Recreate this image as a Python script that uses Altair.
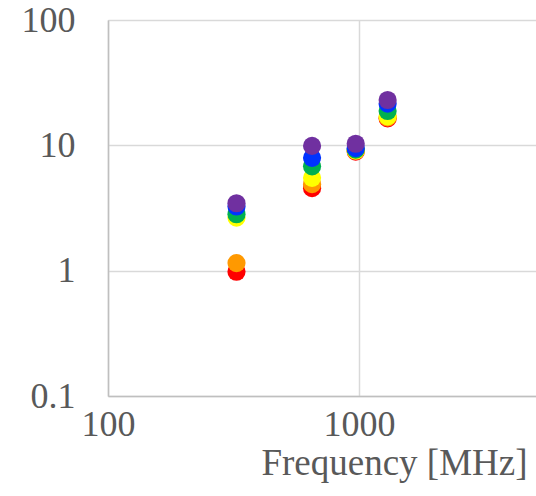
import altair as alt
import pandas as pd

# Measurement frequencies (MHz)
freqs = [325, 650, 970, 1300]

# One series per colour
series_names = ["Red", "Orange", "Yellow", "Green", "Blue", "Purple"]
series_colors = ["#FF0000", "#FF9900", "#FFFF00", "#00B050", "#0033FF", "#7030A0"]
red = [0.98, 4.55, 8.9, 16.4]
orange = [1.15, 4.9, 9.05, 16.7]
yellow = [2.65, 5.5, 9.1, 17.0]
green = [2.82, 6.8, 9.25, 18.8]
blue = [3.25, 7.95, 9.5, 21.5]
purple = [3.45, 9.9, 10.3, 23.0]

x_ticks = [100, 1000]
y_ticks = [0.1, 1, 10, 100]

values = [red, orange, yellow, green, blue, purple]
rows = []
for i, (name, ys) in enumerate(zip(series_names, values)):
    for f, v in zip(freqs, ys):
        rows.append({"series": name, "order": i, "freq": f, "value": v})
df = pd.DataFrame(rows)

font = "Times New Roman, Liberation Serif, serif"
text_color = "#595959"

chart = (
    alt.Chart(df)
    .mark_circle(size=330, opacity=1)
    .encode(
        x=alt.X(
            "freq:Q",
            scale=alt.Scale(type="log", domain=[100, 5070], nice=False),
            axis=alt.Axis(
                values=x_ticks,
                format="d",
                title="Frequency [MHz]",
                titleAnchor="end",
                titleAlign="right",
                titleX=419,
                titleY=78,
                titleBaseline="alphabetic",
                titleFont=font,
                titleFontSize=37,
                titleFontWeight="normal",
                titleColor=text_color,
                labelFont=font,
                labelFontSize=36,
                labelColor=text_color,
                labelPadding=11,
                labelOverlap=False,
                labelFlush=False,
                ticks=False,
                domainColor="#BFBFBF",
                domainWidth=1.5,
                gridColor="#D9D9D9",
                gridWidth=1.5,
            ),
        ),
        y=alt.Y(
            "value:Q",
            scale=alt.Scale(type="log", domain=[0.1, 100], nice=False),
            axis=alt.Axis(
                values=y_ticks,
                labelExpr="'' + datum.value",
                title=None,
                labelFont=font,
                labelFontSize=36,
                labelColor=text_color,
                labelPadding=33,
                labelOverlap=False,
                labelFlush=False,
                ticks=False,
                domainColor="#BFBFBF",
                domainWidth=1.5,
                gridColor="#D9D9D9",
                gridWidth=1.5,
            ),
        ),
        color=alt.Color(
            "series:N",
            scale=alt.Scale(domain=series_names, range=series_colors),
            legend=None,
        ),
        order=alt.Order("order:Q"),
    )
    .properties(
        width=428,
        height=376,
        autosize=alt.AutoSizeParams(type="none"),
        padding={"left": 108, "top": 20, "right": 0, "bottom": 100},
    )
    .configure_view(stroke=None)
    .configure(background="white")
)

chart.save("out.html", embed_options={"renderer": "svg", "actions": False})
